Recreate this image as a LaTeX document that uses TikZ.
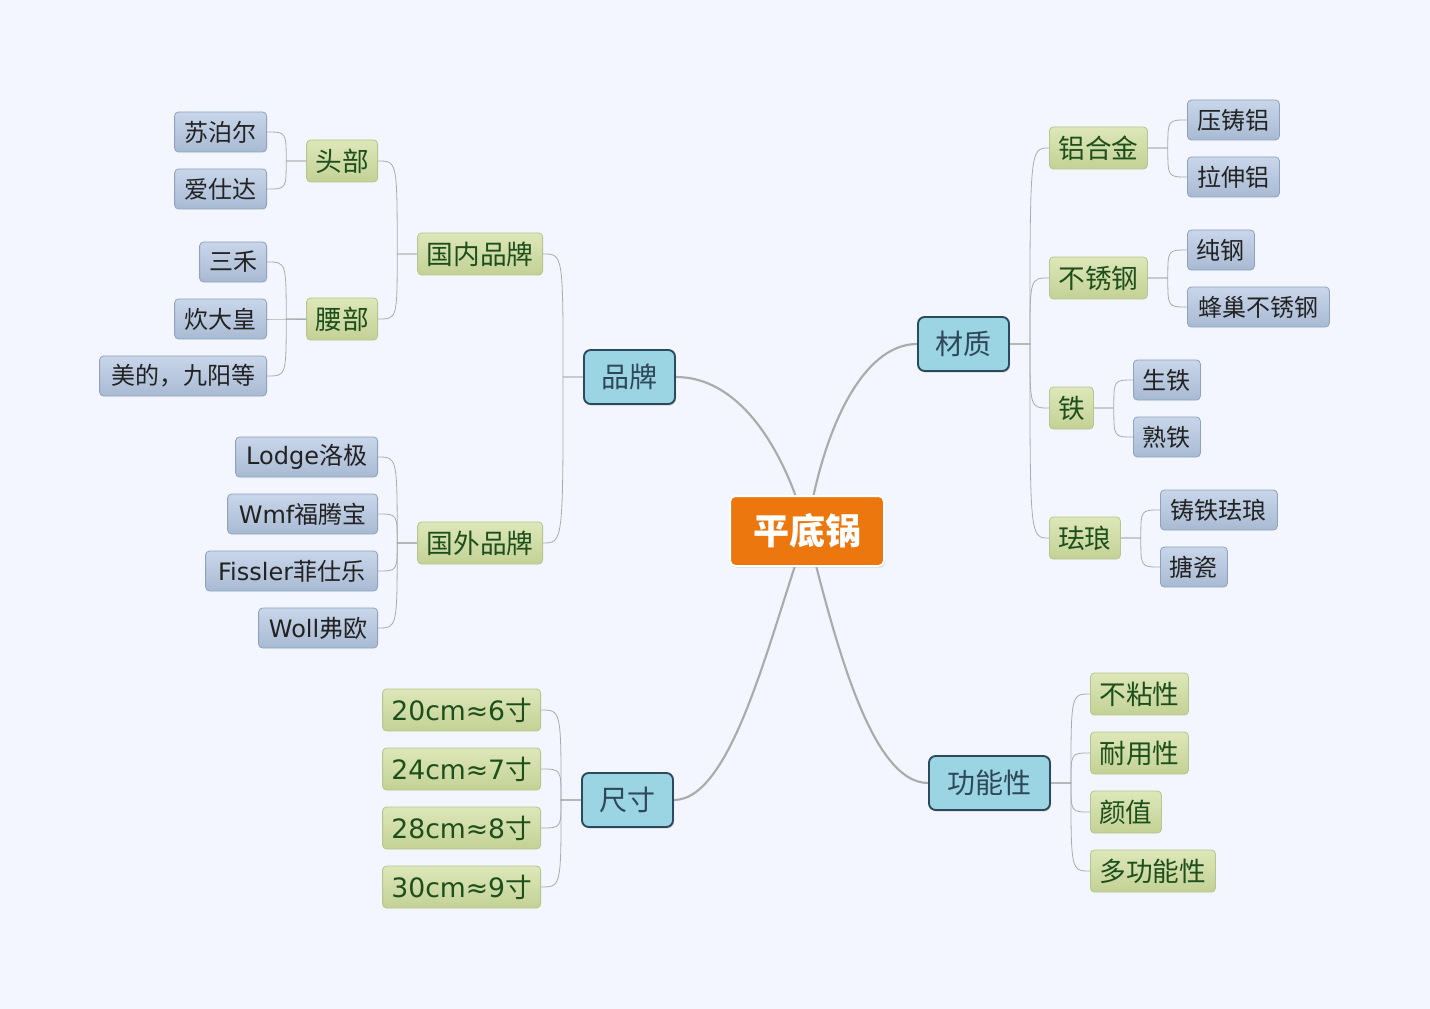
\documentclass[tikz,border=0pt]{standalone}
\usepackage{fontspec}
\setmainfont{DejaVu Sans}
\newfontfamily\cjk{Noto Sans CJK SC}
\newfontfamily\latf{DejaVu Sans}
\newcommand\latn[1]{{\latf #1}}
\usetikzlibrary{shadows}
\pgfdeclarelayer{back}
\pgfdeclarelayer{links}
\pgfsetlayers{back,links,main}

\definecolor{bgcol}{HTML}{F3F6FE}
\definecolor{rootcol}{HTML}{EC770F}
\definecolor{topicfill}{HTML}{9BD4E2}
\definecolor{topicline}{HTML}{2C4A5E}
\definecolor{topictext}{HTML}{2E4858}
\definecolor{subtop}{HTML}{DEE7B9}
\definecolor{subbot}{HTML}{C3D195}
\definecolor{subline}{HTML}{B6C58C}
\definecolor{subtext}{HTML}{1D4F1C}
\definecolor{leaftop}{HTML}{C9D6EA}
\definecolor{leafbot}{HTML}{A8BAD3}
\definecolor{leafline}{HTML}{8EA2BF}
\definecolor{leaftext}{HTML}{222222}
\definecolor{linkcol}{HTML}{ABABAB}

\tikzset{
  root/.style={draw=white, line width=1.5pt, fill=rootcol, rounded corners=4pt,
    text=white, font=\cjk\fontsize{27}{27}\selectfont\bfseries,
    minimum width=115.5pt, minimum height=52.5pt, inner sep=0pt,
    drop shadow={opacity=0.3, shadow xshift=0.8pt, shadow yshift=-1.2pt}},
  topic/.style={draw=topicline, line width=1.4pt, fill=topicfill, rounded corners=5pt,
    text=topictext, font=\cjk\fontsize{21}{21}\selectfont,
    minimum height=40.5pt, inner sep=0pt,
    drop shadow={opacity=0.3, shadow xshift=0.8pt, shadow yshift=-1.2pt}},
  sub/.style={draw=subline, line width=0.6pt, top color=subtop, bottom color=subbot,
    rounded corners=3pt, text=subtext, font=\cjk\fontsize{20}{20}\selectfont,
    minimum height=31.5pt, inner sep=0pt},
  leaf/.style={draw=leafline, line width=0.6pt, top color=leaftop, bottom color=leafbot,
    rounded corners=3pt, text=leaftext, font=\cjk\fontsize{18}{18}\selectfont,
    minimum height=30pt, inner sep=0pt},
  trunk/.style={draw=linkcol, line width=1.6pt},
  link/.style={draw=linkcol, line width=0.6pt},
  goleft/.style={to path={-- ++(-20,0) coordinate (j) .. controls (j |- \tikztotarget) .. (\tikztotarget)}},
  goright/.style={to path={-- ++(20,0) coordinate (j) .. controls (j |- \tikztotarget) .. (\tikztotarget)}},
}

\begin{document}
\begin{tikzpicture}[x=0.75pt, y=-0.75pt]
  \begin{pgfonlayer}{back}
    \fill[bgcol] (0,0) rectangle (1430,1009);
  \end{pgfonlayer}

  % centre and main topics
  \node[root] (pan) at (807,531) {平底锅};
  \node[topic, minimum width=68.25pt] (pinpai) at (629.5,377) {品牌};
  \node[topic, minimum width=68.25pt] (caizhi) at (963.5,344) {材质};
  \node[topic, minimum width=68.25pt] (chicun) at (627.5,800) {尺寸};
  \node[topic, minimum width=90.75pt] (gongneng) at (989.5,783) {功能性};

  % brands
  \node[sub, minimum width=93.75pt, anchor=east] (guonei) at (543,254) {国内品牌};
  \node[sub, minimum width=93.75pt, anchor=east] (guowai) at (543,543) {国外品牌};
  \node[sub, minimum width=53.25pt, anchor=east] (toubu) at (378,161) {头部};
  \node[sub, minimum width=53.25pt, anchor=east] (yaobu) at (378,319) {腰部};
  \node[leaf, minimum width=69pt, anchor=east] (suboer) at (267,132) {苏泊尔};
  \node[leaf, minimum width=69pt, anchor=east] (aishida) at (267,189) {爱仕达};
  \node[leaf, minimum width=50.25pt, anchor=east] (sanhe) at (267,262) {三禾};
  \node[leaf, minimum width=69pt, anchor=east] (chuida) at (267,319) {炊大皇};
  \node[leaf, minimum width=125.25pt, anchor=east] (meidi) at (267,376) {美的，九阳等};
  \node[leaf, minimum width=106.5pt, anchor=east] (lodge) at (378,457) {\latn{Lodge}洛极};
  \node[leaf, minimum width=112.5pt, anchor=east] (wmf) at (378,514) {\latn{Wmf}福腾宝};
  \node[leaf, minimum width=129pt, anchor=east] (fissler) at (378,571) {\latn{Fissler}菲仕乐};
  \node[leaf, minimum width=89.25pt, anchor=east] (woll) at (378,628) {\latn{Woll}弗欧};

  % sizes
  \node[sub, minimum width=118.5pt, anchor=east] (c20) at (541,710) {\latn{20cm≈6}寸};
  \node[sub, minimum width=118.5pt, anchor=east] (c24) at (541,769) {\latn{24cm≈7}寸};
  \node[sub, minimum width=118.5pt, anchor=east] (c28) at (541,828) {\latn{28cm≈8}寸};
  \node[sub, minimum width=118.5pt, anchor=east] (c30) at (541,887) {\latn{30cm≈9}寸};

  % materials
  \node[sub, minimum width=73.5pt, anchor=west] (lvhejin) at (1049,148) {铝合金};
  \node[sub, minimum width=73.5pt, anchor=west] (buxiu) at (1049,278) {不锈钢};
  \node[sub, minimum width=33pt, anchor=west] (tie) at (1049,408) {铁};
  \node[sub, minimum width=53.25pt, anchor=west] (falang) at (1049,538) {珐琅};
  \node[leaf, minimum width=69pt, anchor=west] (yazhu) at (1187,120) {压铸铝};
  \node[leaf, minimum width=69pt, anchor=west] (lashen) at (1187,177) {拉伸铝};
  \node[leaf, minimum width=50.25pt, anchor=west] (chungang) at (1187,250) {纯钢};
  \node[leaf, minimum width=106.5pt, anchor=west] (fengchao) at (1187,307) {蜂巢不锈钢};
  \node[leaf, minimum width=50.25pt, anchor=west] (shengtie) at (1133,380) {生铁};
  \node[leaf, minimum width=50.25pt, anchor=west] (shutie) at (1133,437) {熟铁};
  \node[leaf, minimum width=87.75pt, anchor=west] (zhutie) at (1160,510) {铸铁珐琅};
  \node[leaf, minimum width=50.25pt, anchor=west] (tangci) at (1160,567) {搪瓷};

  % features
  \node[sub, minimum width=73.5pt, anchor=west] (bunian) at (1090,694) {不粘性};
  \node[sub, minimum width=73.5pt, anchor=west] (naiyong) at (1090,753) {耐用性};
  \node[sub, minimum width=53.25pt, anchor=west] (yanzhi) at (1090,812) {颜值};
  \node[sub, minimum width=93.75pt, anchor=west] (duogong) at (1090,871) {多功能性};

  \begin{pgfonlayer}{links}
    \draw[trunk] (pan.center) .. controls +(-25,-90) and +(60,0) .. (pinpai.east);
    \draw[trunk] (pan.center) .. controls +(15,-100) and +(-55,0) .. (caizhi.west);
    \draw[trunk] (pan.center) .. controls +(-35,95) and +(60,0) .. (chicun.east);
    \draw[trunk] (pan.center) .. controls +(25,95) and +(-60,0) .. (gongneng.west);

    \foreach \c in {guonei,guowai} \draw[link] (pinpai.west) to[goleft] (\c.east);
    \foreach \c in {toubu,yaobu} \draw[link] (guonei.west) to[goleft] (\c.east);
    \foreach \c in {suboer,aishida} \draw[link] (toubu.west) to[goleft] (\c.east);
    \foreach \c in {sanhe,chuida,meidi} \draw[link] (yaobu.west) to[goleft] (\c.east);
    \foreach \c in {lodge,wmf,fissler,woll} \draw[link] (guowai.west) to[goleft] (\c.east);
    \foreach \c in {c20,c24,c28,c30} \draw[link] (chicun.west) to[goleft] (\c.east);

    \foreach \c in {lvhejin,buxiu,tie,falang} \draw[link] (caizhi.east) to[goright] (\c.west);
    \foreach \c in {yazhu,lashen} \draw[link] (lvhejin.east) to[goright] (\c.west);
    \foreach \c in {chungang,fengchao} \draw[link] (buxiu.east) to[goright] (\c.west);
    \foreach \c in {shengtie,shutie} \draw[link] (tie.east) to[goright] (\c.west);
    \foreach \c in {zhutie,tangci} \draw[link] (falang.east) to[goright] (\c.west);
    \foreach \c in {bunian,naiyong,yanzhi,duogong} \draw[link] (gongneng.east) to[goright] (\c.west);
  \end{pgfonlayer}
\end{tikzpicture}
\end{document}
